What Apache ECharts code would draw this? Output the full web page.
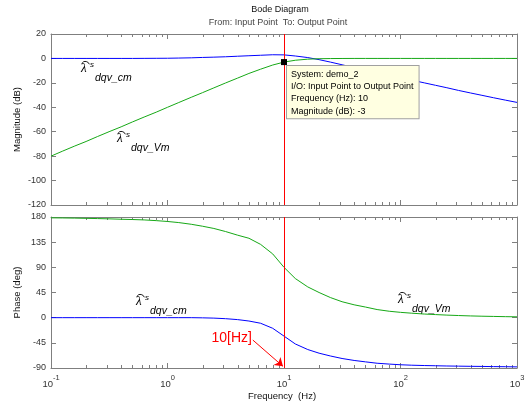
<!DOCTYPE html>
<html><head><meta charset="utf-8">
<script src="https://cdn.jsdelivr.net/npm/echarts@6/dist/echarts.min.js"></script>
<style>html,body{margin:0;padding:0;background:#fff}#c{width:530px;height:405px}</style>
</head><body><div id="c"></div>
<script>
// ---- data ----
const freq    = [0.1,0.125,0.16,0.2,0.25,0.315,0.4,0.5,0.63,0.8,1,1.25,1.6,2,2.5,3.15,4,5,6.3,8,10,12.5,16,20,25,31.5,40,50,63,80,100,125,160,200,250,315,400,500,630,800,1000];
const magCm   = [0,0,0,0,0,0,0,0,0.05,0.1,0.15,0.3,0.5,0.8,1.05,1.35,1.8,2.2,2.6,3.0,2.9,2.0,0.7,-1.0,-3.0,-5.2,-7.5,-9.5,-11.6,-13.8,-15.8,-17.8,-20,-22,-24,-26.2,-28.3,-30.2,-32.2,-34.2,-36];
const magVm   = [-80,-76,-71.7,-68,-64,-60,-56,-52,-48,-44,-40,-36.1,-31.8,-28,-24.1,-20.1,-16.1,-12.3,-8.8,-5.4,-3,-1.5,-0.6,-0.25,-0.1,-0.04,0,0,0,0,0,0,0,0,0,0,0,0,0,0,0];
const phaseCm = [0,0,0,0,0,0,0,0,0,0,0,0,0,-0.3,-0.8,-1.8,-3.5,-6,-10,-19,-33,-47,-57,-63.5,-68.5,-73,-76.5,-79,-81.5,-83,-84.2,-85,-85.6,-86,-86.4,-86.7,-87,-87.2,-87.5,-87.7,-88];
const phaseVm = [178.5,178.3,178,177.6,177.2,176.7,176,175.5,174.8,173.5,172,170,167,163.5,159.5,154,147.5,142,131,114,90,70,55,45,36,28.5,23,19,14.5,11.5,9.5,8,6.5,5.5,4.6,3.8,3.1,2.6,2.2,1.8,1.5];
const minorTicks = [0.2,0.3,0.4,0.5,0.6,0.7,0.8,0.9,2,3,4,5,6,7,8,9,20,30,40,50,60,70,80,90,200,300,400,500,600,700,800,900];
const markerFreq = 10, markerMag = -3;
const arrowFrom = [5.4, -40], arrowTo = [9.8, -87];
const tipLines = ['System: demo_2','I/O: Input Point to Output Point','Frequency (Hz): ' + markerFreq,'Magnitude (dB): ' + markerMag];
const magRange = {min:-120, max:20, interval:20};
const phaseRange = {min:-90, max:180, interval:45};

const AX = '#7f7f7f', TXT = '#333', FONT = '"Liberation Sans", Arial, sans-serif';
const BLUE = '#0000ff', GREEN = '#16a816', RED = '#ff0000';

const chart = echarts.init(document.getElementById('c'));
function xAx(g, pos, labels) {
  return {gridIndex:g, type:'log', logBase:10, min:0.1, max:1000, splitNumber:4, position:pos,
    axisLine:{onZero:false, lineStyle:{color:AX, width:1}},
    axisTick:{inside:true, length:5, lineStyle:{color:AX}},
    splitLine:{show:false}, minorTick:{show:false},
    axisLabel:{show:labels, margin:7, color:TXT, fontFamily:FONT,
      formatter: v => '{b|10}{e|' + Math.round(Math.log10(v)) + '}',
      rich:{b:{fontSize:9.5, fontFamily:FONT, color:TXT, verticalAlign:'bottom', lineHeight:14},
            e:{fontSize:7.5, fontFamily:FONT, color:TXT, verticalAlign:'bottom', lineHeight:14, padding:[0,0,7,0]}}}};
}
function yAx(g, pos, r, labels) {
  return {gridIndex:g, type:'value', min:r.min, max:r.max, interval:r.interval, position:pos,
    axisLine:{show:true, onZero:false, lineStyle:{color:AX, width:1}},
    axisTick:{show:true, inside:true, length:5, lineStyle:{color:AX}},
    splitLine:{show:false},
    axisLabel:{show:labels, margin:5, fontSize:9, color:TXT, fontFamily:FONT}};
}
function minorSeries(xi, yi, r) {
  return {type:'custom', xAxisIndex:xi, yAxisIndex:yi, silent:true, z:1,
    data: minorTicks.map(v => [v, r.min]),
    renderItem: (p, api) => {
      const v = api.value(0);
      const top = api.coord([v, r.max]), bot = api.coord([v, r.min]);
      const x = Math.round(top[0]) + 0.5;
      return {type:'group', children:[
        {type:'line', shape:{x1:x, y1:top[1], x2:x, y2:top[1]+3}, style:{stroke:AX, lineWidth:1}},
        {type:'line', shape:{x1:x, y1:bot[1], x2:x, y2:bot[1]-3}, style:{stroke:AX, lineWidth:1}}]};
    }};
}
function pairs(vals) { return freq.map((f,i) => [f, vals[i]]); }
function lam(x, y, sub) {
  return {type:'group', x:x, y:y, silent:true, children:[
    {type:'arc', shape:{cx:4.5, cy:3.5, r:4, startAngle:Math.PI*1.1, endAngle:Math.PI*1.9, clockwise:true}, style:{stroke:'#000', fill:null, lineWidth:0.9}},
    {type:'text', x:0, y:0, style:{text:'λ', fontSize:13, fontStyle:'italic', fontFamily:'"Liberation Serif", serif', fill:'#000', verticalAlign:'top'}},
    {type:'text', x:9, y:-1, style:{text:'s', fontSize:8, fontStyle:'italic', fontFamily:FONT, fill:'#000', verticalAlign:'top'}},
    {type:'text', x:14, y:10.5, style:{text:sub, fontSize:10.5, fontStyle:'italic', fontFamily:FONT, fill:'#000', verticalAlign:'top'}}]};
}
const lineBase = {type:'line', symbol:'none', showSymbol:false, silent:true};
chart.setOption({
  animation:false,
  grid:[{left:51, top:34, width:466, height:171, containLabel:false, outerBoundsMode:'none'},
        {left:51, top:217, width:466, height:151, containLabel:false, outerBoundsMode:'none'}],
  xAxis:[xAx(0,'bottom',false), xAx(0,'top',false), xAx(1,'bottom',true), xAx(1,'top',false)],
  yAxis:[yAx(0,'left',magRange,true), yAx(0,'right',magRange,false), yAx(1,'left',phaseRange,true), yAx(1,'right',phaseRange,false)],
  series:[
    minorSeries(0,0,magRange), minorSeries(2,2,phaseRange),
    Object.assign({}, lineBase, {xAxisIndex:0, yAxisIndex:0, z:2, data:pairs(magCm), lineStyle:{color:BLUE, width:1}}),
    Object.assign({}, lineBase, {xAxisIndex:0, yAxisIndex:0, z:3, data:pairs(magVm), lineStyle:{color:GREEN, width:1},
      markLine:{silent:true, symbol:'none', label:{show:false}, lineStyle:{color:RED, width:1, type:'solid'}, data:[{xAxis:markerFreq}]},
      markPoint:{silent:true, z:10, symbol:'rect', symbolSize:6, itemStyle:{color:'#000'},
        data:[{coord:[markerFreq, markerMag]}],
        label:{show:true, position:[6,7], align:'left', verticalAlign:'top', formatter:tipLines.join('\n'),
          fontSize:9, lineHeight:12.3, color:'#000', fontFamily:FONT, backgroundColor:'#ffffe1',
          borderColor:'#a0a0a0', borderWidth:1, padding:[2,5,1,4]}}}),
    Object.assign({}, lineBase, {xAxisIndex:2, yAxisIndex:2, z:2, data:pairs(phaseCm), lineStyle:{color:BLUE, width:1},
      markLine:{silent:true, symbol:['none','arrow'], symbolSize:8, label:{show:false},
        lineStyle:{color:RED, width:1, type:'solid'}, data:[[{coord:arrowFrom},{coord:arrowTo}]]}}),
    Object.assign({}, lineBase, {xAxisIndex:2, yAxisIndex:2, z:3, data:pairs(phaseVm), lineStyle:{color:GREEN, width:1},
      markLine:{silent:true, symbol:'none', label:{show:false}, lineStyle:{color:RED, width:1, type:'solid'}, data:[{xAxis:markerFreq}]}})
  ],
  graphic:[
    {type:'text', x:280, y:10, style:{text:'Bode Diagram', fontSize:9, fontFamily:FONT, fill:'#111', align:'center', verticalAlign:'middle'}},
    {type:'text', x:278, y:23, style:{text:'From: Input Point  To: Output Point', fontSize:9, fontFamily:FONT, fill:'#444', align:'center', verticalAlign:'middle'}},
    {type:'text', x:17, y:119.5, rotation:Math.PI/2, style:{text:'Magnitude (dB)', fontSize:9.5, fontFamily:FONT, fill:'#111', align:'center', verticalAlign:'middle'}},
    {type:'text', x:17, y:292.5, rotation:Math.PI/2, style:{text:'Phase (deg)', fontSize:9.5, fontFamily:FONT, fill:'#111', align:'center', verticalAlign:'middle'}},
    {type:'text', x:282, y:396, style:{text:'Frequency  (Hz)', fontSize:9.5, fontFamily:FONT, fill:'#111', align:'center', verticalAlign:'middle'}},
    {type:'text', x:252, y:338.5, style:{text:'10[Hz]', fontSize:14, fontFamily:FONT, fill:RED, align:'right', verticalAlign:'middle'}},
    lam(81, 62, 'dqv_cm'), lam(117, 132, 'dqv_Vm'), lam(136, 295, 'dqv_cm'), lam(398, 293, 'dqv_Vm')
  ]
});
</script></body></html>
